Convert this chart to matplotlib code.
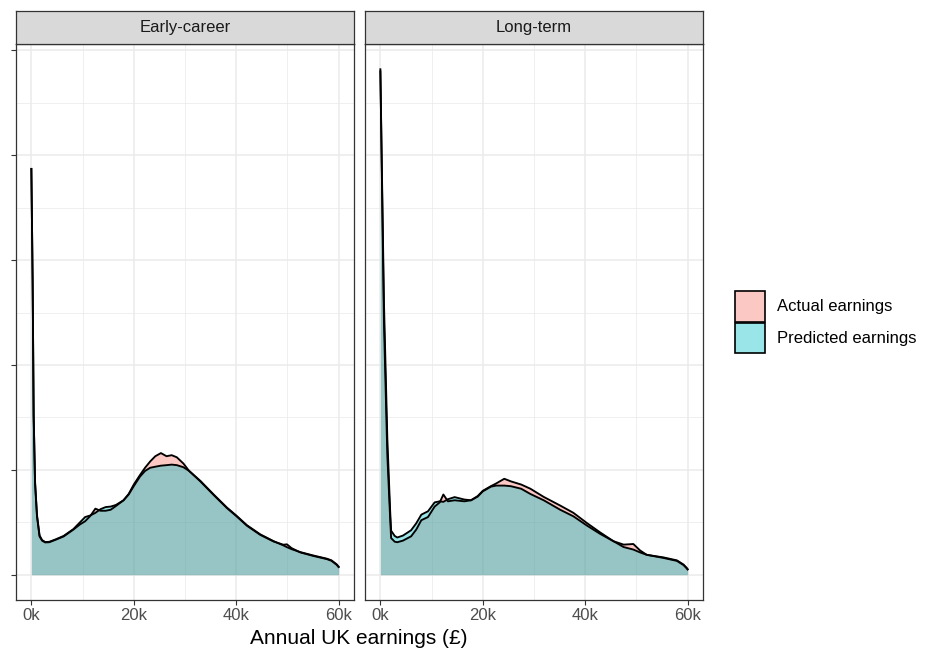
import matplotlib.pyplot as plt
from matplotlib.patches import Patch
from matplotlib.ticker import FuncFormatter, MultipleLocator

plt.rcParams['font.family'] = ['Liberation Sans', 'DejaVu Sans']

panels = ["Early-career", "Long-term"]
series = ["Actual earnings", "Predicted earnings"]

# earnings in thousands of pounds, density in arbitrary units (unlabelled axis)
early_x = [0, 0.25, 0.45, 0.72, 1.1, 1.6, 2.1, 2.7, 3.5, 4.7, 6.3, 8.2, 9.5, 10.5,
           11.5, 12.5, 13.5, 14.5, 15.5, 16.5, 18, 19, 20, 21.2, 22.2, 23.2, 24.2,
           25.3, 26.4, 27.4, 28.4, 29.7, 30.8, 33, 35.6, 38.2, 40, 42.1, 44.7,
           47.3, 49.2, 49.9, 50.8, 52.5, 55, 57.7, 58.6, 59.6, 60]
early_actual = [3.87, 2.78, 1.51, 0.87, 0.555, 0.365, 0.325, 0.308, 0.31, 0.333,
                0.365, 0.43, 0.48, 0.51, 0.56, 0.63, 0.61, 0.61, 0.62, 0.655, 0.71,
                0.77, 0.86, 0.95, 1.02, 1.08, 1.13, 1.16, 1.13, 1.14, 1.12, 1.06,
                0.99, 0.89, 0.76, 0.635, 0.56, 0.467, 0.38, 0.317, 0.286, 0.29,
                0.254, 0.213, 0.18, 0.149, 0.133, 0.095, 0.073]
early_pred = [3.87, 2.80, 1.53, 0.89, 0.57, 0.375, 0.33, 0.312, 0.314, 0.336,
              0.37, 0.435, 0.50, 0.55, 0.565, 0.59, 0.625, 0.645, 0.65, 0.665,
              0.71, 0.765, 0.845, 0.935, 0.99, 1.02, 1.03, 1.04, 1.045, 1.05,
              1.045, 1.025, 0.99, 0.895, 0.765, 0.64, 0.565, 0.472, 0.385, 0.32,
              0.28, 0.263, 0.244, 0.216, 0.184, 0.153, 0.137, 0.10, 0.076]

long_x = [0, 0.33, 0.7, 1.36, 1.9, 2.1, 2.8, 3.3, 4.4, 6, 7, 8, 9.3, 10.6, 11.6,
          12.3, 13.2, 14.5, 16.4, 17.7, 19, 20, 21.6, 22.6, 24.2, 25.5, 27.5,
          29.3, 31.9, 35.1, 37.7, 40.3, 42.9, 45.5, 47.5, 49.4, 50.7, 52, 55.3,
          57.9, 59.2, 59.8, 60]
long_actual = [4.82, 3.68, 2.41, 1.14, 0.55, 0.35, 0.315, 0.31, 0.325, 0.366,
               0.43, 0.52, 0.55, 0.65, 0.69, 0.765, 0.70, 0.71, 0.70, 0.71, 0.75,
               0.80, 0.845, 0.87, 0.915, 0.89, 0.86, 0.82, 0.742, 0.66, 0.59,
               0.494, 0.404, 0.32, 0.287, 0.293, 0.232, 0.19, 0.16, 0.132, 0.092,
               0.062, 0.05]
long_pred = [4.80, 3.76, 2.60, 1.30, 0.62, 0.42, 0.37, 0.355, 0.373, 0.424, 0.49,
             0.573, 0.605, 0.69, 0.70, 0.695, 0.72, 0.74, 0.717, 0.71, 0.745,
             0.795, 0.84, 0.85, 0.85, 0.844, 0.82, 0.77, 0.71, 0.62, 0.557, 0.47,
             0.39, 0.32, 0.264, 0.24, 0.213, 0.19, 0.165, 0.137, 0.097, 0.066,
             0.053]

data = {
    "Early-career": (early_x, early_actual, early_pred),
    "Long-term": (long_x, long_actual, long_pred),
}

colors = {"Actual earnings": (248/255, 118/255, 109/255),
          "Predicted earnings": (0/255, 191/255, 196/255)}
alpha = 0.4

W, H = 940, 661
fig = plt.figure(figsize=(9.4, 6.61), dpi=100)

panel_left = [16, 365]
panel_w = 338
panel_top, panel_bottom = 44, 600
strip_top = 11
small = 12

ymax = max(max(early_actual), max(long_actual), max(early_pred), max(long_pred))
ylo, yhi = -0.05 * ymax, 1.05 * ymax

for i, name in enumerate(panels):
    xk, act, pred = data[name]
    ax = fig.add_axes([panel_left[i] / W, (H - panel_bottom) / H,
                       panel_w / W, (panel_bottom - panel_top) / H])
    ax.set_facecolor('white')
    ax.set_axisbelow(True)
    xs = [v * 1000 for v in xk]
    for ys, lab in [(act, series[0]), (pred, series[1])]:
        ax.fill_between(xs, ys, 0, color=colors[lab], alpha=alpha, lw=0, zorder=2)
        ax.plot(xs, ys, color='black', lw=1.35, zorder=3, solid_joinstyle='round')

    ax.set_xlim(-3000, 63000)
    ax.set_ylim(ylo, yhi)
    ax.xaxis.set_major_locator(MultipleLocator(20000))
    ax.xaxis.set_minor_locator(MultipleLocator(10000))
    ax.yaxis.set_major_locator(MultipleLocator(1))
    ax.yaxis.set_minor_locator(MultipleLocator(0.5))
    ax.xaxis.set_major_formatter(FuncFormatter(lambda v, p: f"{int(v/1000)}k"))
    ax.grid(which='major', color='#EBEBEB', lw=1.1, zorder=0)
    ax.grid(which='minor', color='#EBEBEB', lw=0.55, zorder=0)
    ax.tick_params(axis='x', which='major', length=3.5, width=0.8, color='#333333',
                   labelsize=small, labelcolor='#4D4D4D', pad=2.5)
    ax.tick_params(which='minor', length=0)
    if i == 0:
        ax.tick_params(axis='y', which='major', length=3.5, width=0.8,
                       color='#333333', labelleft=False)
    else:
        ax.tick_params(axis='y', which='major', length=0, labelleft=False)
    for s in ax.spines.values():
        s.set_color('#333333')
        s.set_linewidth(0.9)
        s.set_zorder(5)

    sax = fig.add_axes([panel_left[i] / W, (H - panel_top) / H,
                        panel_w / W, (panel_top - strip_top) / H])
    sax.set_facecolor('#D9D9D9')
    sax.set_xticks([])
    sax.set_yticks([])
    for s in sax.spines.values():
        s.set_color('#333333')
        s.set_linewidth(0.9)
    sax.text(0.5, 0.5, name, transform=sax.transAxes, ha='center', va='center',
             fontsize=small, color='#1A1A1A')

fig.text((16 + 702) / 2 / W, (H - 638) / H, "Annual UK earnings (£)",
         ha='center', va='center', fontsize=15, color='black')

handles = [Patch(facecolor=(*colors[s], alpha), edgecolor='black', linewidth=1.2)
           for s in series]
fig.legend(handles, series, loc='center left',
           bbox_to_anchor=(735 / W, (H - 322) / H), frameon=False,
           fontsize=small, handlelength=1.8, handleheight=2.48,
           labelspacing=0.06, handletextpad=0.7, borderpad=0, borderaxespad=0)

fig.savefig("out.png", dpi=100)
